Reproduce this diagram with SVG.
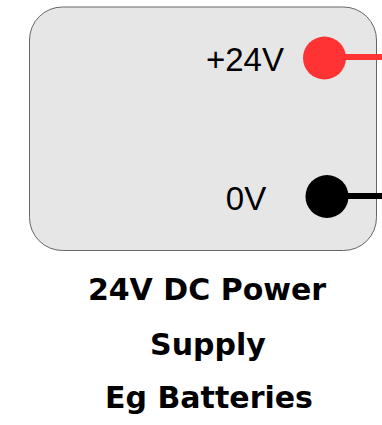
<svg xmlns="http://www.w3.org/2000/svg" width="382" height="425" viewBox="0 0 382 425">
<style>
.lbl{font-family:"Liberation Sans",Arial,sans-serif;font-size:33px;fill:#000;text-anchor:middle}
.cap{font-family:"Comic Sans MS","DejaVu Sans",sans-serif;font-weight:bold;font-size:30px;fill:#000;text-anchor:middle}
</style>
<rect width="382" height="425" fill="#fff"/>
<g id="psu">
<rect x="29.5" y="7" width="347" height="243.5" rx="33" ry="33" fill="#e6e6e6" stroke="#666" stroke-width="1"/>
<text class="lbl" x="245" y="71">+24V</text>
<text class="lbl" x="246" y="210">0V</text>
</g>
<g id="connectors">
<line x1="324.5" y1="57" x2="382" y2="57" stroke="#ff3333" stroke-width="6"/>
<line x1="327" y1="196" x2="382" y2="196" stroke="#000" stroke-width="6"/>
</g>
<g id="terminal-pos"><circle cx="324.5" cy="58" r="21.5" fill="#ff3333"/></g>
<g id="terminal-neg"><circle cx="327" cy="196.5" r="21.5" fill="#000"/></g>
<g id="caption">
<text class="cap" x="207" y="300">24V DC Power</text>
<text class="cap" x="208" y="355">Supply</text>
<text class="cap" x="209" y="408">Eg Batteries</text>
</g>
</svg>
